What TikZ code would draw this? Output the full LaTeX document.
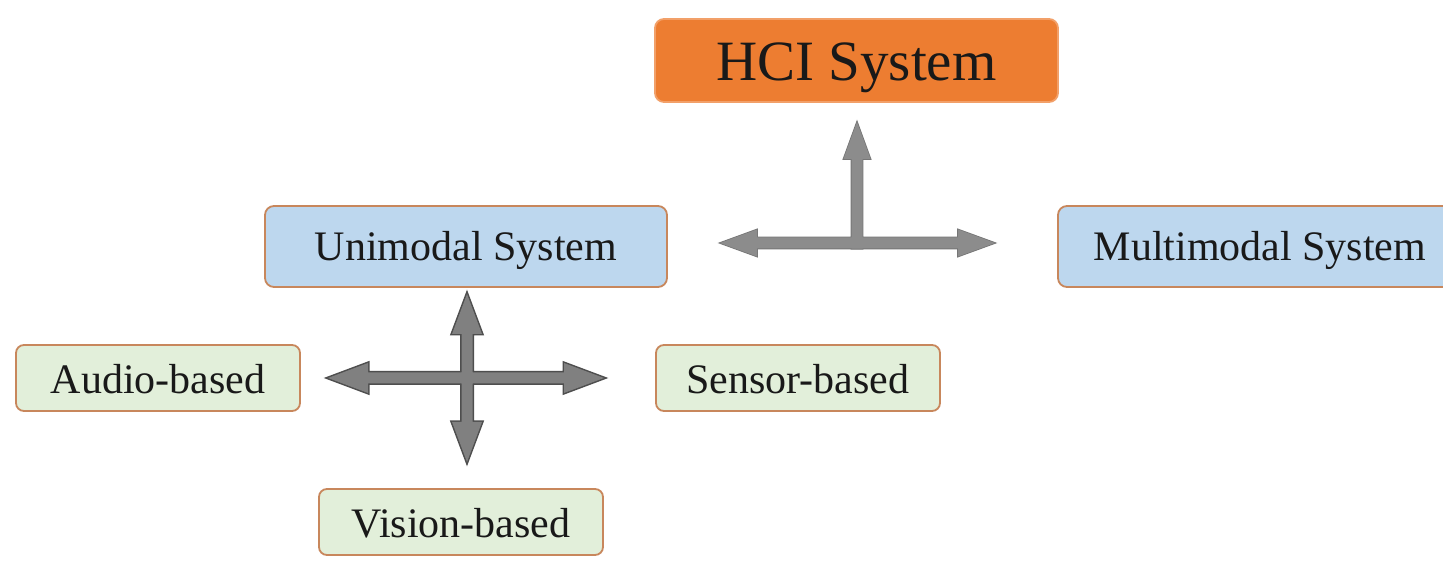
\documentclass[tikz,border=0pt]{standalone}
\usepackage{fontspec}
\setmainfont{Liberation Serif}
\begin{document}
\begin{tikzpicture}[x=1pt,y=1pt,
  box/.style={rounded corners=9pt, line width=1.8pt, inner sep=0pt, text=black!90,
    text height=29pt, text depth=0pt, font=\fontsize{42}{50}\selectfont},
  topbox/.style={box, fill={rgb,255:red,237;green,125;blue,49}, draw={rgb,255:red,242;green,160;blue,105},
    minimum width=403pt, minimum height=83pt, text height=40pt, font=\fontsize{57}{66}\selectfont},
  sysbox/.style={box, fill={rgb,255:red,189;green,215;blue,238}, draw={rgb,255:red,200;green,135;blue,92},
    minimum width=402pt, minimum height=81pt},
  kindbox/.style={box, rounded corners=8pt, fill={rgb,255:red,226;green,239;blue,218}, draw={rgb,255:red,200;green,135;blue,92},
    minimum width=284pt, minimum height=66pt, text height=31pt},
  tedge/.style={draw={rgb,255:red,118;green,118;blue,118}, fill={rgb,255:red,118;green,118;blue,118}, line width=1.6pt, line join=miter},
  tfill/.style={fill={rgb,255:red,140;green,140;blue,140}},
  xedge/.style={draw={rgb,255:red,78;green,78;blue,78}, fill={rgb,255:red,78;green,78;blue,78}, line width=3pt, line join=miter},
  xfill/.style={fill={rgb,255:red,128;green,128;blue,128}},
  % one arm of a block arrow: shaft from the centre to a triangular head at distance #1
  pics/arm/.style={code={
    \path[pic actions] (-\armw,-\armw) -- (#1-\armhl,-\armw) -- (#1-\armhl,-\armhw) -- (#1,0)
      -- (#1-\armhl,\armhw) -- (#1-\armhl,\armw) -- (-\armw,\armw) -- cycle;
  }}
]
\clip (0,0) rectangle (1443,577);
\fill[white] (0,0) rectangle (1443,577);

% boxes
\node[topbox]  (hci)    at (856.5,516.5) {HCI System};
\node[sysbox]  (uni)    at (466,330.5)   {Unimodal System};
\node[sysbox, minimum width=404pt] (multi) at (1260,330.5) {Multimodal System};
\node[kindbox] (audio)  at (158,199)     {Audio-based};
\node[kindbox] (sensor) at (798,199)     {Sensor-based};
\node[kindbox] (vision) at (461,55)      {Vision-based};

% junction of the upper T-shaped arrow
\coordinate (tj) at (857,334);
\def\armw{5.5}\def\armhl{37}\def\armhw{13.5}
\foreach \ang/\len in {0/138,90/121,180/137}{
  \pic[tedge, rotate=\ang] at (tj) {arm=\len};
}
\foreach \ang/\len in {0/138,90/121,180/137}{
  \pic[tfill, rotate=\ang] at (tj) {arm=\len};
}

% centre of the lower four-way arrow
\coordinate (xc) at (467,199);
\def\armw{5.5}\def\armhl{40}\def\armhw{15}
\foreach \ang/\len in {0/137,90/84,180/139,270/84}{
  \pic[xedge, rotate=\ang] at (xc) {arm=\len};
}
\foreach \ang/\len in {0/137,90/84,180/139,270/84}{
  \pic[xfill, rotate=\ang] at (xc) {arm=\len};
}
\end{tikzpicture}
\end{document}
